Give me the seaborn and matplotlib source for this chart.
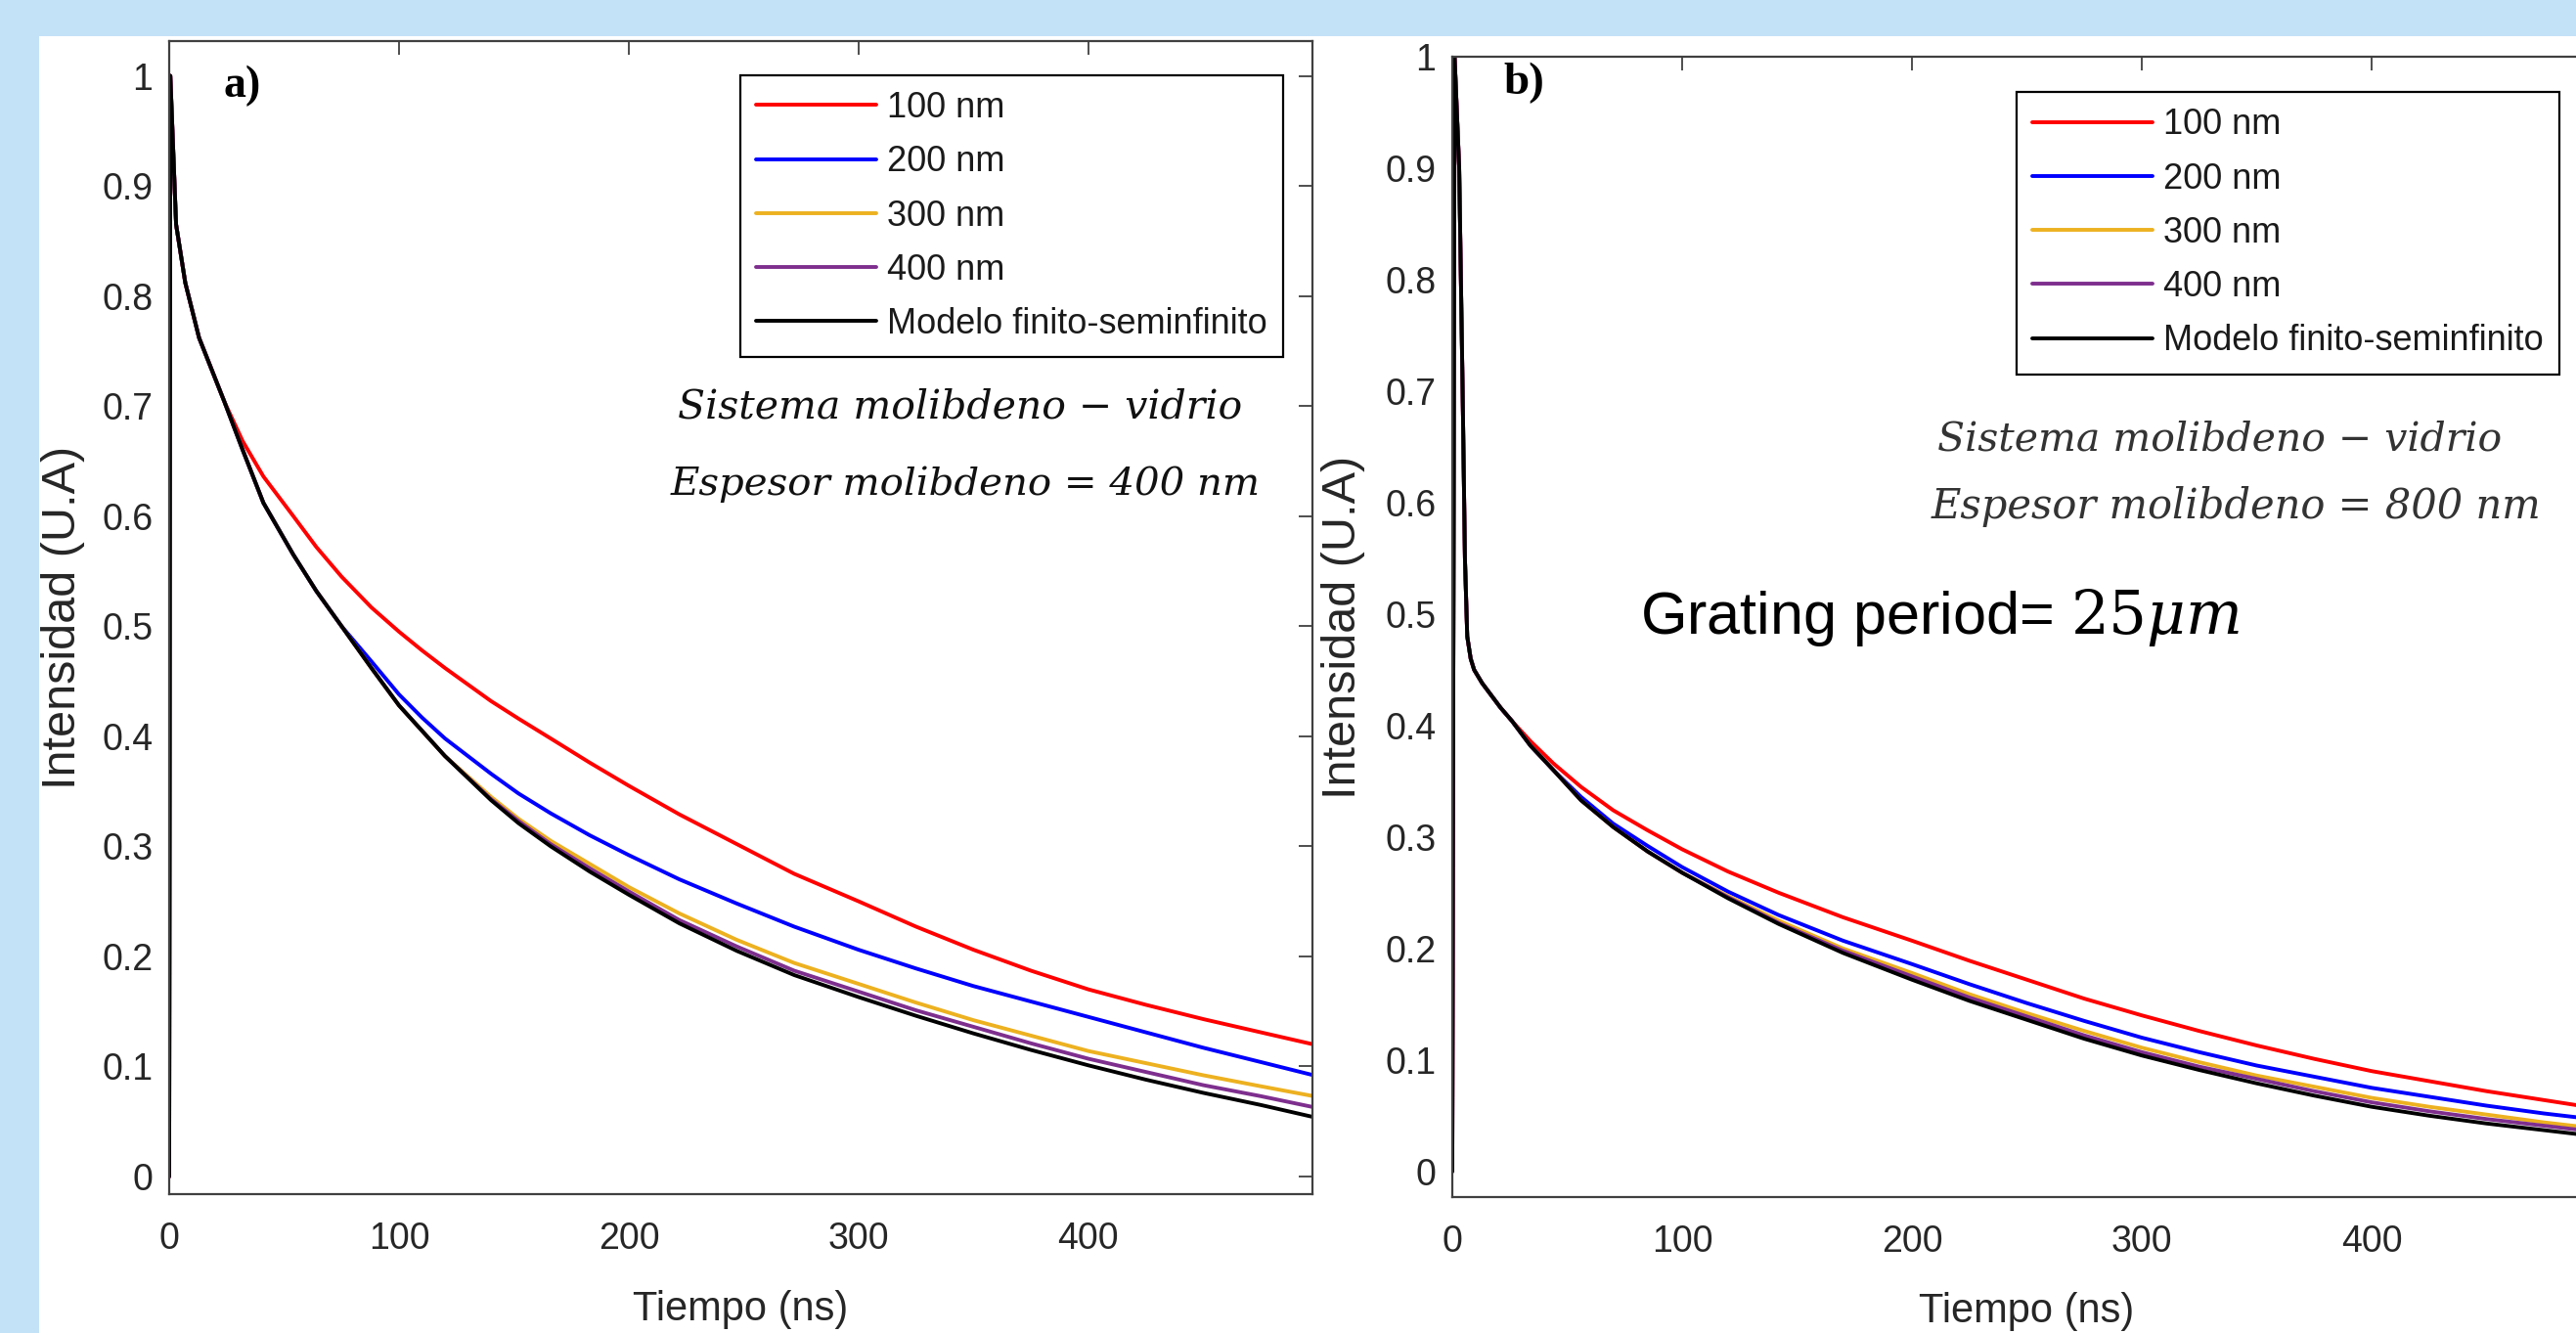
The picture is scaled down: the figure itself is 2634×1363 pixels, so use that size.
import matplotlib
matplotlib.use("Agg")
import matplotlib.pyplot as plt
import seaborn as sns
from matplotlib.patches import Rectangle

# a) molybdenum 400 nm on glass -- time (ns) and normalised intensity
t_a = [0, 0.5, 3, 7, 13, 24, 32, 41, 54, 64, 75, 88, 100, 110, 120, 140, 152, 166, 183, 200,
       222, 247, 272, 300, 325, 350, 375, 400, 425, 450, 475, 498]
a_100 = [0, 1.0, 0.865, 0.812, 0.762, 0.704, 0.668, 0.636, 0.600, 0.572, 0.545, 0.517, 0.495, 0.478,
         0.462, 0.432, 0.416, 0.398, 0.376, 0.355, 0.329, 0.302, 0.275, 0.250, 0.227, 0.206, 0.187,
         0.170, 0.156, 0.143, 0.131, 0.120]
a_200 = [0, 1.0, 0.865, 0.812, 0.762, 0.704, 0.660, 0.612, 0.565, 0.532, 0.500, 0.468, 0.438, 0.417,
         0.398, 0.366, 0.348, 0.330, 0.310, 0.292, 0.270, 0.248, 0.227, 0.206, 0.189, 0.173, 0.159,
         0.145, 0.131, 0.117, 0.104, 0.092]
a_300 = [0, 1.0, 0.865, 0.812, 0.762, 0.704, 0.660, 0.612, 0.565, 0.532, 0.500, 0.462, 0.428, 0.405,
         0.382, 0.345, 0.325, 0.305, 0.284, 0.263, 0.239, 0.215, 0.194, 0.175, 0.158, 0.142, 0.128,
         0.114, 0.103, 0.092, 0.082, 0.073]
a_400 = [0, 1.0, 0.865, 0.812, 0.762, 0.704, 0.660, 0.612, 0.565, 0.532, 0.500, 0.462, 0.428, 0.405,
         0.382, 0.343, 0.323, 0.302, 0.280, 0.259, 0.233, 0.209, 0.187, 0.168, 0.151, 0.136, 0.121,
         0.107, 0.095, 0.083, 0.073, 0.063]
a_model = [0, 1.0, 0.865, 0.812, 0.762, 0.704, 0.660, 0.612, 0.565, 0.532, 0.500, 0.462, 0.428, 0.405,
           0.382, 0.342, 0.321, 0.300, 0.277, 0.256, 0.230, 0.205, 0.183, 0.163, 0.146, 0.130, 0.115,
           0.101, 0.088, 0.076, 0.065, 0.054]

# b) molybdenum 800 nm on glass
t_b = [0, 1, 3, 4.5, 5.5, 6.5, 8, 9.5, 13, 17, 21, 26, 34, 44, 56, 70, 85, 100, 120, 142, 170, 200,
       225, 250, 275, 300, 325, 350, 375, 400, 425, 450, 475, 500]
b_100 = [0, 1.0, 0.9, 0.7, 0.55, 0.48, 0.46, 0.45, 0.438, 0.427, 0.416, 0.404, 0.386, 0.366, 0.345,
         0.324, 0.306, 0.289, 0.269, 0.250, 0.228, 0.207, 0.189, 0.172, 0.155, 0.140, 0.126, 0.113,
         0.101, 0.090, 0.081, 0.072, 0.064, 0.056]
b_200 = [0, 1.0, 0.9, 0.7, 0.55, 0.48, 0.46, 0.45, 0.438, 0.427, 0.416, 0.404, 0.382, 0.360, 0.336,
         0.312, 0.292, 0.273, 0.251, 0.230, 0.207, 0.186, 0.168, 0.151, 0.135, 0.120, 0.107, 0.095,
         0.085, 0.075, 0.067, 0.059, 0.052, 0.046]
b_300 = [0, 1.0, 0.9, 0.7, 0.55, 0.48, 0.46, 0.45, 0.438, 0.427, 0.416, 0.404, 0.382, 0.360, 0.333,
         0.309, 0.287, 0.268, 0.247, 0.225, 0.200, 0.178, 0.159, 0.142, 0.126, 0.111, 0.098, 0.086,
         0.076, 0.066, 0.058, 0.051, 0.044, 0.038]
b_400 = [0, 1.0, 0.9, 0.7, 0.55, 0.48, 0.46, 0.45, 0.438, 0.427, 0.416, 0.404, 0.382, 0.360, 0.333,
         0.309, 0.287, 0.268, 0.246, 0.223, 0.198, 0.175, 0.156, 0.139, 0.122, 0.107, 0.094, 0.083,
         0.072, 0.062, 0.054, 0.047, 0.041, 0.035]
b_model = [0, 1.0, 0.9, 0.7, 0.55, 0.48, 0.46, 0.45, 0.438, 0.427, 0.416, 0.404, 0.382, 0.360, 0.333,
           0.309, 0.287, 0.268, 0.245, 0.222, 0.196, 0.172, 0.153, 0.136, 0.119, 0.104, 0.091, 0.079,
           0.068, 0.058, 0.050, 0.043, 0.037, 0.031]

series = ["100 nm", "200 nm", "300 nm", "400 nm", "Modelo finito-seminfinito"]
colors = ["#FF0000", "#0000FF", "#EDB120", "#7E2F8E", "#000000"]
xticks = [0, 100, 200, 300, 400]
yticks = [0, 0.1, 0.2, 0.3, 0.4, 0.5, 0.6, 0.7, 0.8, 0.9, 1.0]
ytick_labels = ["0", "0.1", "0.2", "0.3", "0.4", "0.5", "0.6", "0.7", "0.8", "0.9", "1"]

sns.set_theme(style="white")
plt.rcParams["font.family"] = ["Liberation Sans", "DejaVu Sans"]
plt.rcParams["mathtext.fontset"] = "dejavuserif"

W, H = 2634, 1363


def fx(px):
    return px / W


def fy(py):
    return 1 - py / H


fig = plt.figure(figsize=(W / 100, H / 100), dpi=100)
fig.patch.set_facecolor("#C4E2F7")
fig.add_artist(Rectangle((fx(40), 0), 1, fy(37), transform=fig.transFigure,
                         facecolor="white", edgecolor="none", zorder=-5))

ax_a = fig.add_axes([fx(173), fy(1221), (1342 - 173) / W, (1221 - 41.5) / H])
ax_b = fig.add_axes([fx(1485), fy(1224), 1175 / W, (1224 - 58) / H])


def draw_panel(ax, t, curves, xlim, ylim, leg_anchor, ylab_x):
    for name, vals, c in zip(series, curves, colors):
        sns.lineplot(x=t, y=vals, color=c, linewidth=2.8, label=name, ax=ax,
                     estimator=None, sort=False)
    ax.set_facecolor("white")
    ax.set_xlim(*xlim)
    ax.set_ylim(*ylim)
    ax.set_xticks(xticks)
    ax.set_xticklabels([str(v) for v in xticks])
    ax.set_yticks(yticks)
    ax.set_yticklabels(ytick_labels)
    ax.tick_params(direction="in", length=10, width=1.3, top=True, right=True,
                   labelsize=27, colors="#404040", labelcolor="#262626")
    ax.tick_params(axis="x", pad=20)
    ax.tick_params(axis="y", pad=12)
    for s in ax.spines.values():
        s.set_color("#404040")
        s.set_linewidth(1.6)
    ax.set_xlabel("Tiempo (ns)", fontsize=30, color="#262626")
    ax.set_ylabel("Intensidad (U.A)", fontsize=35, color="#262626")
    ax.yaxis.label.set_verticalalignment("center")
    ax.xaxis.set_label_coords(0.5, -0.083)
    ax.yaxis.set_label_coords(ylab_x, 0.5)
    leg = ax.legend(loc="upper right", bbox_to_anchor=leg_anchor, fontsize=26,
                    frameon=True, fancybox=False, edgecolor="black", framealpha=1,
                    borderpad=0.45, labelspacing=0.56, handlelength=3.4,
                    handletextpad=0.3, borderaxespad=0)
    leg.get_frame().set_linewidth(1.6)
    for txt in leg.get_texts():
        txt.set_color("#1a1a1a")


draw_panel(ax_a, t_a, [a_100, a_200, a_300, a_400, a_model], (0, 497.5), (-0.016, 1.032),
           (0.974, 0.970), -0.0924)
draw_panel(ax_b, t_b, [b_100, b_200, b_300, b_400, b_model], (0, 500), (-0.023, 1.0),
           (0.963, 0.969), -0.0945)

serif_it = dict(family="DejaVu Serif", style="italic", ha="center", va="center")
fig.text(fx(982), fy(416), "Sistema molibdeno \u2212 vidrio", fontsize=29.5, color="#111111", **serif_it)
fig.text(fx(987), fy(495), "Espesor molibdeno = 400 nm", fontsize=29, color="#111111", **serif_it)
fig.text(fx(2270), fy(450), "Sistema molibdeno \u2212 vidrio", fontsize=29.5, color="#333333", **serif_it)
fig.text(fx(2287), fy(518), "Espesor molibdeno = 800 nm", fontsize=30, color="#333333", **serif_it)

fig.text(fx(1677), fy(631), r"Grating period= $25\mu m$", fontsize=44, color="black",
         ha="left", va="center")

fig.text(fx(228), fy(88), "a)", family="Liberation Serif", weight="bold", fontsize=33,
         ha="left", va="center", color="black")
fig.text(fx(1537), fy(85), "b)", family="Liberation Serif", weight="bold", fontsize=34,
         ha="left", va="center", color="black")

fig.savefig("out.png", dpi=100, facecolor=fig.get_facecolor())
